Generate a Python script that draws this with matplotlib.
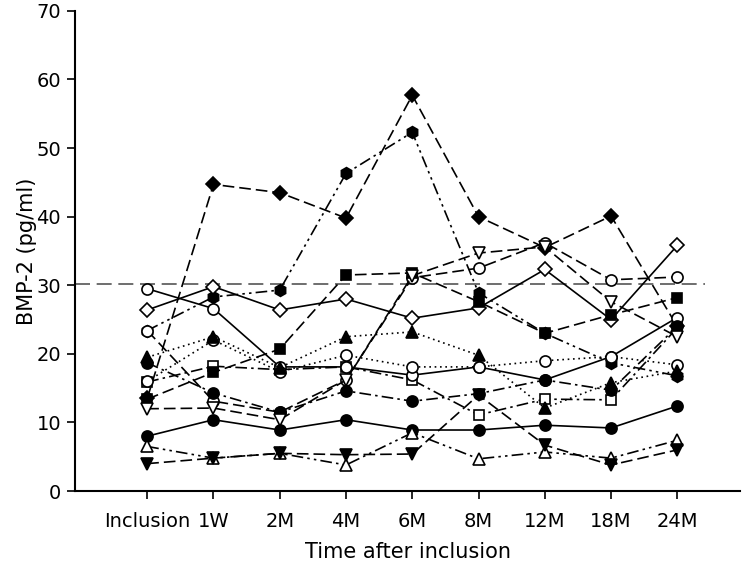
import matplotlib
matplotlib.use("Agg")
import matplotlib.pyplot as plt

categories = ["Inclusion", "1W", "2M", "4M", "6M", "8M", "12M", "18M", "24M"]
reference_level = 30.2

# patient series (pg/ml)
s_os = [15.9, 18.2, 17.7, 18.1, 16.2, 11.1, 13.4, 13.3, 23.8]
s_fh = [23.4, 28.3, 29.3, 46.3, 52.3, 28.9, 23.0, 18.7, 16.8]
s_fd = [13.5, 44.7, 43.5, 39.8, 57.7, 40.0, 35.5, 40.1, 24.0]
s_od = [26.4, 29.8, 26.4, 28.0, 25.2, 26.7, 32.3, 25.0, 35.8]
s_oc1 = [29.5, 26.6, 18.1, 18.1, 16.9, 18.1, 16.2, 19.6, 25.3]
s_oc2 = [23.4, 13.1, 11.5, 16.2, 31.1, 32.5, 36.2, 30.8, 31.2]
s_oc3 = [16.0, 22.0, 17.4, 19.8, 18.1, 18.1, 19.0, 19.6, 18.4]
s_ft = [19.5, 22.5, 18.0, 22.5, 23.2, 19.8, 12.1, 15.8, 17.5]
s_fs = [13.4, 17.3, 20.7, 31.5, 31.8, 27.6, 23.0, 25.7, 28.2]
s_fc1 = [18.7, 14.3, 11.5, 14.6, 13.1, 14.2, 16.2, 14.7, 24.0]
s_fc2 = [8.0, 10.4, 8.9, 10.4, 8.9, 8.9, 9.6, 9.2, 12.4]
s_ov = [12.0, 12.1, 10.4, 16.2, 31.4, 34.7, 35.6, 27.6, 22.5]
s_ot = [6.5, 4.8, 5.5, 3.8, 8.5, 4.7, 5.7, 4.8, 7.4]
s_fv = [4.0, 4.8, 5.5, 5.3, 5.4, 14.0, 6.7, 3.8, 6.0]

DASH = (0, (7, 3))
DASH_DOT = (0, (7, 2.5, 1.5, 2.5))
DASH_DOT_DOT = (0, (7, 2.5, 1.5, 2.5, 1.5, 2.5))
DOT = (0, (1, 2.2))
SOLID = "-"

series = [
    (s_os, "s", False, DASH_DOT, 7),
    (s_fh, "h", True, DASH_DOT_DOT, 8.5),
    (s_fd, "D", True, DASH, 7),
    (s_od, "D", False, SOLID, 7),
    (s_oc1, "o", False, SOLID, 8),
    (s_oc2, "o", False, DASH, 8),
    (s_oc3, "o", False, DOT, 8),
    (s_ft, "^", True, DOT, 8),
    (s_fs, "s", True, DASH, 7),
    (s_fc1, "o", True, DASH_DOT, 8),
    (s_fc2, "o", True, SOLID, 8),
    (s_ov, "v", False, DASH, 8),
    (s_ot, "^", False, DASH_DOT_DOT, 8),
    (s_fv, "v", True, DASH, 8),
]

plt.rcParams["font.family"] = ["DejaVu Sans"]

fig = plt.figure(figsize=(7.5, 5.73), dpi=100)
ax = fig.add_axes([0.1, 0.143, 0.887, 0.838])
x = list(range(len(categories)))

ax.plot([-1.09, 8.42], [reference_level, reference_level], color="#555555",
        lw=1.2, linestyle=(0, (9, 4)), zorder=1)

for vals, mk, filled, ls, ms in series:
    ax.plot(x, vals, color="black", lw=1.2, linestyle=ls, marker=mk,
            markersize=ms, markerfacecolor="black" if filled else "white",
            markeredgecolor="black", markeredgewidth=1.2, zorder=3)

ax.set_xlim(-1.09, 8.95)
ax.set_ylim(0, 70)
ax.set_yticks(range(0, 71, 10))
ax.set_xticks(x)
ax.set_xticklabels(categories)
ax.spines["top"].set_visible(False)
ax.spines["right"].set_visible(False)
for sp in ("left", "bottom"):
    ax.spines[sp].set_linewidth(1.5)
ax.tick_params(axis="both", direction="out", length=6, width=1.2, labelsize=14, pad=4)
ax.tick_params(axis="x", pad=9)
ax.set_ylabel("BMP-2 (pg/ml)", fontsize=15)
ax.yaxis.set_label_coords(-0.057, 0.5)
ax.set_xlabel("Time after inclusion", fontsize=15, labelpad=8)

fig.savefig("out.png", dpi=100)
